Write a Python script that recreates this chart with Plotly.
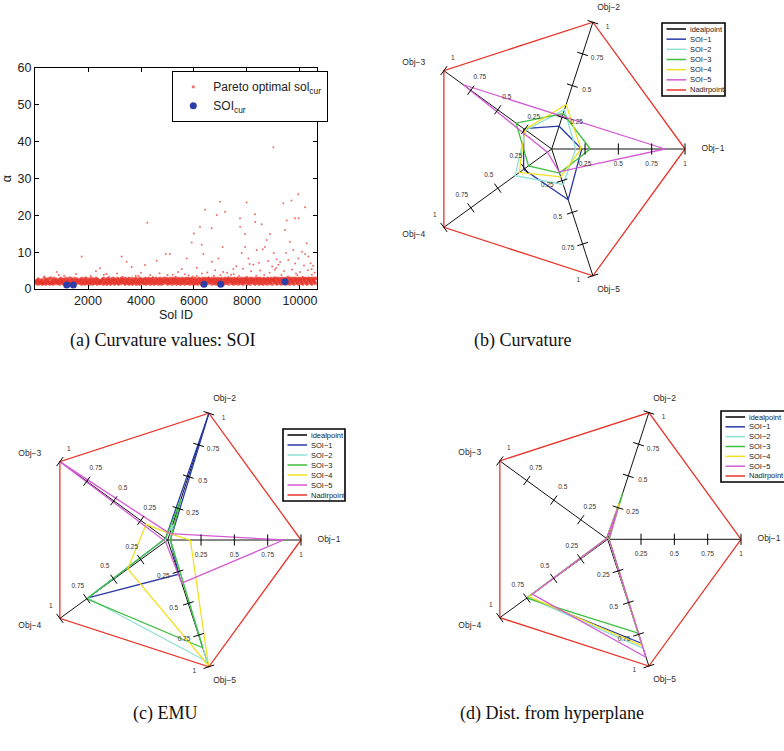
import math
import plotly.graph_objects as go

W, H = 784, 751

# ---------------------------------------------------------------- (a) data
# dense band of Pareto optimal solutions: one hand-read digit per Sol ID step,
# alpha = band_base + band_unit * digit
band_step = 16
band_base, band_unit = 1.1, 0.2
band_codes = (
    "452637184523364712253946172835462913384526193745286"
    "364257183946257381642953718462539174826354917263845"
    "537264819362548173962453817264935182746359281647352"
    "246573819264537182946375128463957182634597213864529"
    "583746291836457291836452917364582917364528193746582"
    "372849163758294613857294613582947361852947163852946"
    "459628173649258371946285739164825937164829375618492"
    "638294715862943718529463718259463817259648371926485"
    "294857361948527396148572936418579326148597236489175"
    "857392641859372648915837264985137296485917362849157"
    "493857261948375926184937526189473528619847352968417"
    "768394529187639452817963845291769384529176938452917"
    "596837249185769342819576938421895769348219576934829"
)
# scattered solutions above the band (Sol ID, alpha)
spike_points = [
    (350, 3.4), (600, 3.2), (820, 4.6), (900, 3.8), (1100, 3.6), (1300, 3.2),
    (1550, 4.1), (1762, 8.8), (1900, 3.1), (2100, 3.5), (2300, 4.8), (2453, 5.6),
    (2600, 3.9), (2700, 4.1), (2800, 3.3), (3100, 4.2), (3272, 8.8), (3300, 3.3),
    (3460, 7.4), (3649, 6.0), (3800, 3.6), (3900, 3.5), (4000, 4.4), (4151, 6.5),
    (4239, 18.0), (4350, 3.8), (4450, 3.2), (4593, 7.7), (4700, 4.3), (4933, 9.5),
    (5000, 3.8), (5089, 9.5), (5200, 3.9), (5300, 3.3), (5400, 4.6), (5536, 5.4),
    (5650, 4.0), (5726, 8.3), (5800, 3.7), (5914, 12.6), (5950, 3.4), (6000, 15.1),
    (6100, 3.5), (6101, 5.8), (6227, 16.9), (6290, 12.0), (6300, 4.2), (6353, 9.5),
    (6416, 21.5), (6500, 4.5), (6550, 3.1), (6668, 16.5), (6670, 7.4), (6750, 3.6),
    (6800, 5.1), (6857, 20.1), (6920, 8.3), (6982, 23.7), (7000, 3.8), (7083, 11.4),
    (7100, 4.6), (7170, 21.0), (7250, 4.4), (7300, 3.2), (7400, 3.9), (7485, 5.4),
    (7500, 4.0), (7600, 6.2), (7700, 3.5), (7737, 19.2), (7740, 16.9), (7800, 9.8),
    (7850, 5.5), (7925, 14.9), (7930, 11.4), (7989, 23.5), (8000, 3.3), (8052, 8.3),
    (8100, 6.8), (8150, 4.8), (8240, 6.6), (8303, 20.3), (8310, 18.2), (8350, 3.6),
    (8366, 10.6), (8450, 7.1), (8500, 5.0), (8554, 17.6), (8592, 10.8), (8650, 3.9),
    (8680, 11.4), (8743, 13.3), (8800, 7.6), (8850, 4.4), (8869, 14.9), (8950, 6.1),
    (8994, 38.5), (9000, 3.2), (9010, 9.8), (9050, 5.2), (9100, 5.7), (9120, 8.1),
    (9183, 6.6), (9250, 7.3), (9300, 3.8), (9371, 23.3), (9400, 4.9), (9435, 16.0),
    (9473, 9.8), (9500, 18.6), (9550, 3.4), (9560, 7.9), (9623, 12.8), (9680, 24.0),
    (9700, 5.3), (9747, 10.6), (9812, 19.2), (9815, 6.9), (9850, 4.2), (9900, 3.7),
    (9937, 25.7), (9940, 8.3), (9950, 19.2), (10000, 4.6), (10076, 10.1), (10100, 3.3),
    (10150, 6.4), (10190, 22.2), (10195, 9.5), (10254, 12.4), (10300, 5.1), (10316, 8.8),
    (10400, 7.0), (10442, 5.4), (10450, 3.9), (10500, 6.3), (10550, 4.4),
]
soi_ids = [1196, 1447, 6378, 7007, 9435]
soi_alpha = [1.1, 1.1, 1.3, 1.3, 2.0]
x_ticks = [2000, 4000, 6000, 8000, 10000]
y_ticks = [0, 10, 20, 30, 40, 50, 60]

# ---------------------------------------------------------------- radar data
objectives = ["Obj\u22121", "Obj\u22122", "Obj\u22123", "Obj\u22124", "Obj\u22125"]
axis_deg = [0, 72, 144, 216, 288]
soi_names = ["SOI\u22121", "SOI\u22122", "SOI\u22123", "SOI\u22124", "SOI\u22125"]
idealpoint = [0, 0, 0, 0, 0]
nadirpoint = [1, 1, 1, 1, 1]
curvature = [
    [0.225, 0.18, 0.26, 0.26, 0.40],
    [0.18, 0.31, 0.24, 0.34, 0.28],
    [0.29, 0.28, 0.33, 0.215, 0.19],
    [0.22, 0.35, 0.25, 0.30, 0.22],
    [0.85, 0.26, 0.82, 0.04, 0.18],
]
emu = [
    [0.02, 1.00, 0.02, 0.74, 0.27],
    [0.02, 0.12, 0.02, 0.74, 0.96],
    [0.02, 0.32, 0.02, 0.75, 0.85],
    [0.17, 0.05, 0.20, 0.37, 0.99],
    [0.87, 0.05, 1.00, 0.02, 0.34],
]
dist_hyperplane = [
    [0.01, 0.27, 0.01, 0.74, 0.82],
    [0.01, 0.27, 0.01, 0.74, 0.86],
    [0.01, 0.36, 0.01, 0.75, 0.74],
    [0.01, 0.28, 0.01, 0.73, 0.84],
    [0.01, 0.25, 0.01, 0.70, 0.93],
]
radial_ticks = [0.25, 0.5, 0.75, 1.0]
radial_labels = ["0.25", "0.5", "0.75", "1"]

# ---------------------------------------------------------------- styles
RED = "#e5332a"
BLUE_DOT = "#2d3fa6"
soi_colors = ["#2a3aa8", "#8fe0d8", "#3fbf3f", "#f0e024", "#d35bd3"]
ideal_color = "#000000"
nadir_color = "#e8362b"
SANS = "Liberation Sans, Arial, sans-serif"
SERIF = "Liberation Serif, Times New Roman, serif"

fig = go.Figure()

# ---------------------------------------------------------------- (a) scatter
band_alpha = [band_base + band_unit * int(c) for c in band_codes]
band_ids = [band_step * (i + 1) for i in range(len(band_codes))]

fig.add_trace(go.Scatter(
    x=band_ids + [p[0] for p in spike_points],
    y=band_alpha + [p[1] for p in spike_points], mode="markers",
    marker=dict(color=RED, size=([3.4] * len(band_ids)) + ([2.0] * len(spike_points)),
                line=dict(width=0)),
    name="Pareto optimal sol<sub>cur</sub>", xaxis="x", yaxis="y",
    hoverinfo="skip",
))
fig.add_trace(go.Scatter(
    x=soi_ids, y=soi_alpha, mode="markers",
    marker=dict(color=BLUE_DOT, size=7, line=dict(width=0)),
    name="SOI<sub>cur</sub>", xaxis="x", yaxis="y",
))

ax_common = dict(showgrid=False, zeroline=False, showline=True, linecolor="black",
                 linewidth=1, mirror="allticks", ticks="inside", ticklen=4,
                 tickcolor="black", automargin=False,
                 tickfont=dict(family=SANS, size=12.5, color="#222"))
fig.update_layout(
    xaxis=dict(domain=[35 / W, 317 / W], range=[0, 10642], tickvals=x_ticks,
               ticktext=[str(v) for v in x_ticks],
               title=dict(text="Sol ID", standoff=2,
                          font=dict(family=SANS, size=12.5, color="#222")),
               anchor="y", **ax_common),
    yaxis=dict(domain=[1 - 289 / H, 1 - 68 / H], range=[0, 60], tickvals=y_ticks,
               ticktext=[str(v) for v in y_ticks],
               title=dict(text="\u03b1", standoff=6,
                          font=dict(family=SANS, size=12.5, color="#222")),
               anchor="x", **ax_common),
)

# ---------------------------------------------------------------- radars
R_PX = 133.3          # pixels per unit radius
PAD = 1.32            # axis box half-size in radius units (room for labels)
panels = [
    ("2", curvature, (551.7, 149.0), (662, 23, 725, 96)),
    ("3", emu, (167.7, 540.0), (283, 429, 345, 501)),
    ("4", dist_hyperplane, (607.7, 539.3), (721, 411, 787, 482)),
]
label_offset = 0.115        # radial label offset from the spoke, in radius units
obj_label_r = [1.21, 1.14, 1.22, 1.22, 1.14]
obj_label_turn = [0, -4, 4, -4, 4]


def to_xy(rs, degs):
    xs = [r * math.cos(math.radians(d)) for r, d in zip(rs, degs)]
    ys = [r * math.sin(math.radians(d)) for r, d in zip(rs, degs)]
    return xs, ys


def offset_xy(t, deg, d):
    th = math.radians(deg)
    return (t * math.cos(th) + d * math.cos(th - math.pi / 2),
            t * math.sin(th) + d * math.sin(th - math.pi / 2))


for k, values, (cx, cy), box in panels:
    xa, ya = "x" + k, "y" + k
    common = dict(xaxis=xa, yaxis=ya, cliponaxis=False, showlegend=False)
    closed_th = axis_deg + [axis_deg[0]]
    # spokes
    for a in axis_deg:
        sx, sy = to_xy([0, 1], [a, a])
        fig.add_trace(go.Scatter(x=sx, y=sy, mode="lines", hoverinfo="skip",
                                 line=dict(color="#111", width=1), **common))
    # ideal point
    ix, iy = to_xy(idealpoint + [idealpoint[0]], closed_th)
    fig.add_trace(go.Scatter(x=ix, y=iy, mode="lines", name="idealpoint",
                             line=dict(color=ideal_color, width=1.2), **common))
    # SOIs
    for name, vals, col in zip(soi_names, values, soi_colors):
        px_, py_ = to_xy(vals + [vals[0]], closed_th)
        fig.add_trace(go.Scatter(x=px_, y=py_, mode="lines", name=name,
                                 line=dict(color=col, width=1.3), **common))
    # nadir point
    nx, ny = to_xy(nadirpoint + [nadirpoint[0]], closed_th)
    fig.add_trace(go.Scatter(x=nx, y=ny, mode="lines", name="Nadirpoint",
                             line=dict(color=nadir_color, width=1.3), **common))
    # tick marks
    tr, tt = [], []
    for a in axis_deg:
        for t in radial_ticks:
            tr.append(t); tt.append(a)
    tx, ty = to_xy(tr, tt)
    fig.add_trace(go.Scatter(
        x=tx, y=ty, mode="markers", hoverinfo="skip",
        marker=dict(symbol="line-ns", size=8, angle=[-a for a in tt], color="black",
                    line=dict(color="black", width=1)), **common))
    # radial labels
    lx, ly, lt = [], [], []
    for a in axis_deg:
        for t, s in zip(radial_ticks, radial_labels):
            ox, oy = offset_xy(t, a, label_offset)
            lx.append(ox); ly.append(oy); lt.append(s)
    fig.add_trace(go.Scatter(
        x=lx, y=ly, mode="text", text=lt, hoverinfo="skip",
        textfont=dict(family=SANS, size=6.5, color="#333333"), **common))
    # objective labels
    ox, oy = to_xy(obj_label_r, [a + d for a, d in zip(axis_deg, obj_label_turn)])
    fig.add_trace(go.Scatter(
        x=ox, y=oy, mode="text", text=objectives, hoverinfo="skip",
        textfont=dict(family=SANS, size=8.5, color="#2a2a2a"), **common))

    # axis box around the radar, clamped to the page, keeping R_PX px per unit
    L = max(0.0, cx - PAD * R_PX); Rr = min(W, cx + PAD * R_PX)
    T = max(0.0, cy - PAD * R_PX); B = min(H, cy + PAD * R_PX)
    axis_hidden = dict(visible=False, showgrid=False, zeroline=False, fixedrange=True)
    fig.update_layout({
        "xaxis" + k: dict(domain=[L / W, Rr / W],
                          range=[(L - cx) / R_PX, (Rr - cx) / R_PX],
                          anchor=ya, **axis_hidden),
        "yaxis" + k: dict(domain=[1 - B / H, 1 - T / H],
                          range=[(cy - B) / R_PX, (cy - T) / R_PX],
                          anchor=xa, **axis_hidden),
    })

    # legend box (drawn by hand: one per radar panel)
    x0, y0, x1, y1 = box
    fig.add_shape(type="rect", xref="paper", yref="paper",
                  x0=x0 / W, x1=x1 / W, y0=1 - y0 / H, y1=1 - y1 / H,
                  line=dict(color="black", width=1.6), fillcolor="white", layer="above")
    entries = [("idealpoint", ideal_color)] + list(zip(soi_names, soi_colors)) + \
              [("Nadirpoint", nadir_color)]
    row = (y1 - y0 - 12) / 6
    for j, (nm, col) in enumerate(entries):
        yy = y0 + 6 + j * row
        fig.add_shape(type="line", xref="paper", yref="paper",
                      x0=(x0 + 4.5) / W, x1=(x0 + 24) / W, y0=1 - yy / H, y1=1 - yy / H,
                      line=dict(color=col, width=1.5), layer="above")
        fig.add_annotation(x=(x0 + 26) / W, y=1 - yy / H, xref="paper", yref="paper",
                           text=nm, showarrow=False, xanchor="left", yanchor="middle",
                           font=dict(family=SANS, size=7.5, color="#222"))

# ---------------------------------------------------------------- captions
captions = [
    ("(a) Curvature values: SOI", 162, 340),
    ("(b) Curvature", 522, 341),
    ("(c) EMU", 165, 713),
    ("(d) Dist. from hyperplane", 552, 713),
]
for txt, px, py in captions:
    fig.add_annotation(x=px / W, y=1 - py / H, xref="paper", yref="paper", text=txt,
                       showarrow=False, xanchor="center", yanchor="middle",
                       font=dict(family=SERIF, size=18, color="#111"))

fig.update_layout(
    width=W, height=H, margin=dict(l=0, r=0, t=0, b=0),
    paper_bgcolor="white", plot_bgcolor="white",
    showlegend=True,
    legend=dict(x=172 / W, y=1 - 71 / H, xanchor="left", yanchor="top",
                bordercolor="black", borderwidth=1.3, bgcolor="white",
                font=dict(family=SANS, size=12, color="#222"),
                itemsizing="trace", tracegroupgap=0),
)

fig.write_html("out.html")
